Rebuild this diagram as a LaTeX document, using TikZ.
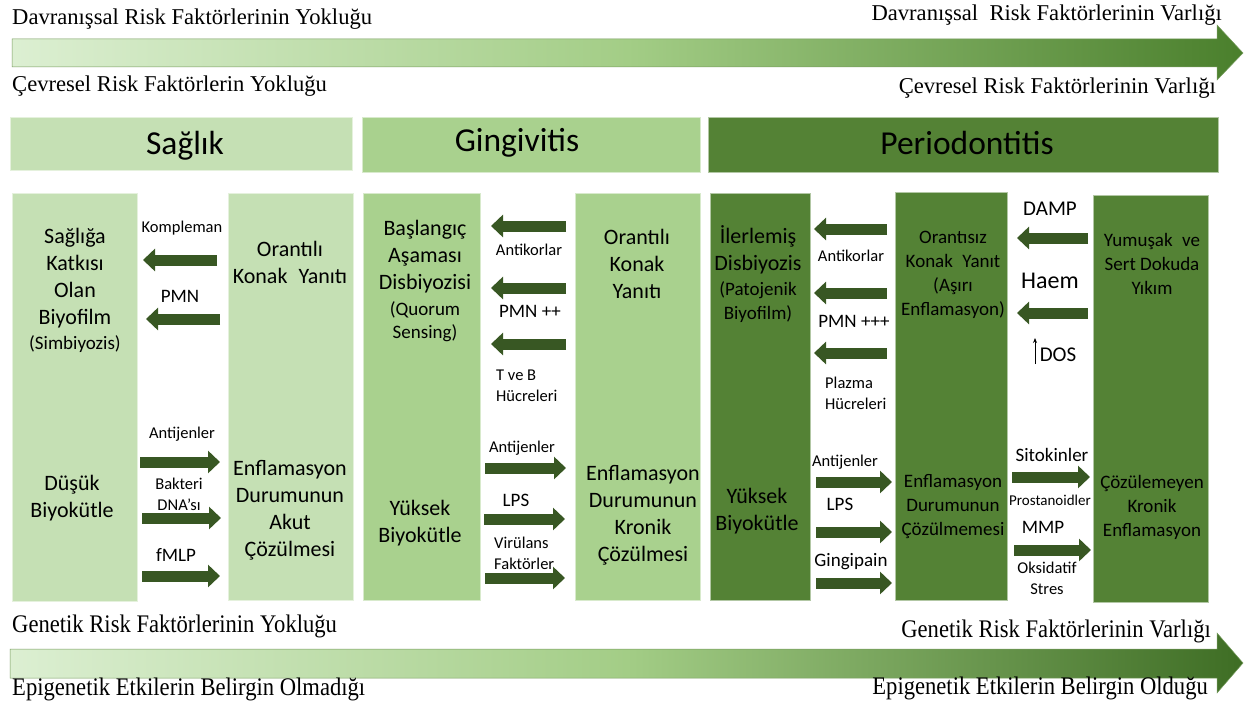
\documentclass[tikz,border=0pt]{standalone}
\usepackage{graphicx}
\usepackage{fontspec}
\setmainfont{Carlito}
\newfontfamily\serifA{Liberation Serif}
\usetikzlibrary{arrows.meta}
\definecolor{cH}{HTML}{C5E0B4}
\definecolor{cG}{HTML}{A9D18E}
\definecolor{cP}{HTML}{548235}
\definecolor{cA}{HTML}{385723}
\definecolor{gL}{HTML}{DCEFD2}
\definecolor{gM}{HTML}{A3CD86}
\definecolor{gR}{HTML}{4A7F2C}
\definecolor{gR2}{HTML}{3E6D24}
\newcommand\fs[2]{\fontsize{#1}{#2}\selectfont}
\newcommand\blkarr[4]{\coordinate (#1s) at (#2,#4); \coordinate (#1e) at (#3,#4); \draw[blk] (#1s) -- (#1e);}
\begin{document}
\begin{tikzpicture}[x=1pt,y=-1pt,
 box/.style={anchor=north west, inner sep=0pt, outer sep=0pt, draw=white!55!#1, line width=0.8pt, fill=#1},
 big/.style={align=center, font=\fs{22}{27}, inner sep=0pt},
 mid/.style={align=center, font=\fs{19}{24}, inner sep=0pt},
 sml/.style={align=center, font=\fs{16.5}{21}, inner sep=0pt},
 lab/.style={align=center, font=\fs{19}{23}, inner sep=0pt},
 ttl/.style={font=\fs{33.5}{38}, inner sep=0pt, anchor=base},
 ser/.style={font=\serifA\fs{22.6}{27}, inner sep=0pt},
 blk/.style={line width=11pt, cA, -{Triangle[length=12pt,width=22pt]}},
]
\useasboundingbox (0,0) rectangle (1244,709);

% top gradient arrow
\shade[left color=gL, right color=gR, middle color=gM, draw=cP!80, line width=0.5pt]
 (12,39) -- (1217,39) -- (1217,25) -- (1243,53) -- (1217,80) -- (1217,67) -- (12,67) -- cycle;
% bottom gradient arrow
\shade[left color=gL, right color=gR2, middle color=gM, draw=cP!80, line width=0.5pt]
 (10,649) -- (1217,649) -- (1217,633) -- (1243,663) -- (1217,693) -- (1217,678) -- (10,678) -- cycle;

% top/bottom texts
\node[ser, anchor=base west] (t1) at (12,25) {Davranışsal Risk Faktörlerinin Yokluğu};
\node[ser, anchor=base west] (t2) at (12,92) {Çevresel Risk Faktörlerin Yokluğu};
\node[ser, anchor=base east] (t3) at (1222,21) {Davranışsal\ \ Risk Faktörlerinin Varlığı};
\node[ser, anchor=base east] (t4) at (1216,93) {Çevresel Risk Faktörlerinin Varlığı};
\node[ser, anchor=base west] (b1) at (12,632) {\scalebox{1}[1.12]{Genetik Risk Faktörlerinin Yokluğu}};
\node[ser, anchor=base east] (b2) at (1211,637) {\scalebox{1}[1.12]{Genetik Risk Faktörlerinin Varlığı}};
\node[ser, anchor=base west] (b3) at (12,695) {\scalebox{1}[1.12]{Epigenetik Etkilerin Belirgin Olmadığı}};
\node[ser, anchor=base east] (b4) at (1208,694) {\scalebox{1}[1.12]{Epigenetik Etkilerin Belirgin Olduğu}};

% header bars
\node[box=cH, minimum width=342pt, minimum height=53pt] (hh) at (10,117) {};
\node[box=cG, minimum width=338pt, minimum height=55pt] (gh) at (362,117) {};
\node[box=cP, minimum width=510pt, minimum height=55pt] (ph) at (708,117) {};
\node[ttl] (hht) at (185,154) {Sağlık};
\node[ttl] (ght) at (517,151) {Gingivitis};
\node[ttl] (pht) at (967,154) {Periodontitis};

% columns
\node[box=cH, minimum width=125pt, minimum height=408pt] (hL) at (12,193) {};
\node[box=cH, minimum width=125pt, minimum height=407pt] (hR) at (228,193) {};
\node[box=cG, minimum width=117pt, minimum height=407pt] (gL) at (363,193) {};
\node[box=cG, minimum width=125pt, minimum height=407pt] (gR) at (575,193) {};
\node[box=cP, minimum width=100pt, minimum height=407pt] (pL) at (710,193) {};
\node[box=cP, minimum width=112pt, minimum height=408pt] (pM) at (895,192) {};
\node[box=cP, minimum width=115pt, minimum height=407pt] (pR) at (1093,195) {};

% Health texts
\node[big] (hL1) at (75,278) {Sağlığa\\Katkısı\\Olan\\Biyofilm};
\node[lab] (hL2) at (75,344) {(Simbiyozis)};
\node[big] (hL3) at (72,498) {Düşük\\Biyokütle};
\node[big] (hR1) at (290,262) {Orantılı\\Konak\hspace{0.5em}Yanıtı};
\node[big] (hR2) at (290,510) {Enflamasyon\\Durumunun\\Akut\\Çözülmesi};
\node[sml] (hk) at (182,228) {Kompleman};
\node[lab] (hp) at (180,296) {PMN};
\node[sml] (ha) at (182,434) {Antijenler};
\node[sml] (hb) at (179,494) {Bakteri\\DNA’sı};
\node[lab] (hf) at (176,555) {fMLP};
\blkarr{ha1}{217}{143}{260}
\blkarr{ha2}{220}{146}{319}
\blkarr{ha3}{140}{220}{462}
\blkarr{ha4}{142}{221}{518}
\blkarr{ha5}{142}{220}{576}

% Gingivitis texts
\node[big] (gL1) at (425,257) {Başlangıç\\Aşaması\\Disbiyozisi};
\node[lab] (gL2) at (425,322) {(Quorum\\Sensing)};
\node[big] (gL3) at (420,523) {Yüksek\\Biyokütle};
\node[big] (gR1) at (637,264) {Orantılı\\Konak\\Yanıtı};
\node[big] (gR2) at (643,515) {Enflamasyon\\Durumunun\\Kronik\\Çözülmesi};
\node[sml] (gk) at (529,250) {Antikorlar};
\node[lab] (gp) at (530,311) {PMN ++};
\node[sml, align=left, anchor=west] (gt) at (496,386) {T ve B\\Hücreleri};
\node[sml] (ga) at (522,448) {Antijenler};
\node[lab] (gl) at (516,500) {LPS};
\node[sml, align=left, anchor=west] (gv) at (494,553) {Virülans\\Faktörler};
\blkarr{ga1}{566}{491}{226}
\blkarr{ga2}{566}{491}{288}
\blkarr{ga3}{566}{491}{344}
\blkarr{ga4}{485}{566}{468}
\blkarr{ga5}{484}{565}{519}
\blkarr{ga6}{485}{565}{578}

% Periodontitis texts
\node[big] (pL1) at (758,250) {İlerlemiş\\Disbiyozis};
\node[mid] (pL2) at (758,302) {(Patojenik\\Biyofilm)};
\node[big] (pL3) at (757,511) {Yüksek\\Biyokütle};
\node[mid] (pM1) at (953,275) {Orantısız\\Konak\hspace{0.5em}Yanıt\\(Aşırı\\Enflamasyon)};
\node[mid] (pM2) at (953,507) {Enflamasyon\\Durumunun\\Çözülmemesi};
\node[mid] (pR1) at (1152,264) {Yumuşak\hspace{0.5em}ve\\Sert Dokuda\\Yıkım};
\node[mid] (pR2) at (1152,507) {Çözülemeyen\\Kronik\\Enflamasyon};
\node[sml] (pk) at (851,256) {Antikorlar};
\node[lab] (pp) at (854,321) {PMN +++};
\node[sml, align=left, anchor=west] (pz) at (825,393) {Plazma\\Hücreleri};
\node[sml] (pa) at (845,462) {Antijenler};
\node[lab] (pl) at (840,504) {LPS};
\node[lab] (pg) at (851,562) {Gingipain};
\blkarr{pa1}{887}{814}{229}
\blkarr{pa2}{887}{814}{293}
\blkarr{pa3}{887}{814}{353}
\blkarr{pa4}{816}{892}{482}
\blkarr{pa5}{816}{892}{532}
\blkarr{pa6}{816}{892}{583}

\node[font=\fs{21}{24}, inner sep=0pt] (pd) at (1050,209) {DAMP};
\node[font=\fs{24}{28}, inner sep=0pt] (ph2) at (1050,281) {Haem};
\node[font=\fs{21}{24}, inner sep=0pt] (pdos) at (1058,355) {DOS};
\coordinate (dos1) at (1035,364);
\coordinate (dos2) at (1035,338);
\draw[line width=0.8pt, -{Stealth[length=5pt,width=4pt]}] (dos1) -- (dos2);
\node[lab] (ps) at (1052,455) {Sitokinler};
\node[font=\fs{15}{18}, inner sep=0pt] (ppr) at (1050,500) {Prostanoidler};
\node[lab] (pm) at (1043,527) {MMP};
\node[sml] (po) at (1047,578) {Oksidatif\\Stres};
\blkarr{pb1}{1088}{1017}{238}
\blkarr{pb2}{1088}{1017}{313}
\blkarr{pb3}{1012}{1090}{477}
\blkarr{pb4}{1014}{1091}{550}
\end{tikzpicture}
\end{document}
